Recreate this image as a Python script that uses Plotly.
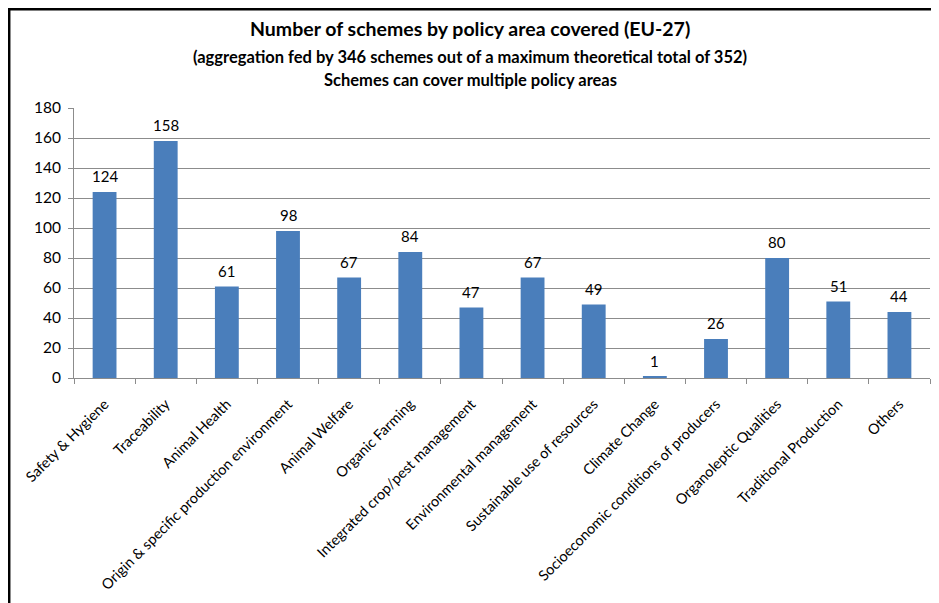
import plotly.graph_objects as go

categories = [
    "Safety & Hygiene", "Traceability", "Animal Health",
    "Origin & specific production environment", "Animal Welfare",
    "Organic Farming", "Integrated crop/pest management",
    "Environmental management", "Sustainable use of resources",
    "Climate Change", "Socioeconomic conditions of producers",
    "Organoleptic Qualities", "Traditional Production", "Others",
]
values = [124, 158, 61, 98, 67, 84, 47, 67, 49, 1, 26, 80, 51, 44]
y_ticks = [0, 20, 40, 60, 80, 100, 120, 140, 160, 180]

title_lines = [
    "Number of schemes by policy area covered (EU-27)",
    "(aggregation fed by 346 schemes out of a maximum theoretical total of 352)",
    "Schemes can cover multiple policy areas",
]

# page has an 8px body margin; the figure is drawn at page offset (8, 8)
OFF = 8
W, H = 939 - OFF, 603 - OFF
L, R, T, B = 74 - OFF, 9, 108 - OFF, 603 - 378
pw, ph = W - L - R, H - T - B

def px_to_paper_x(page_x):
    return (page_x - OFF - L) / pw

def px_to_paper_y(page_y):
    return (H - B - (page_y - OFF)) / ph

FONT = "Lato, Carlito, Calibri, sans-serif"

fig = go.Figure(go.Bar(
    x=categories, y=values,
    marker=dict(color="#4a7ebb", line=dict(width=0)),
    cliponaxis=False,
))

# value labels above bars
for c, v in zip(categories, values):
    fig.add_annotation(
        x=c, y=v, xref="x", yref="y", text=str(v), showarrow=False,
        yanchor="middle", yshift=16,
        font=dict(family=FONT, size=15, color="#000000"),
    )

fig.update_layout(
    width=W, height=H,
    margin=dict(l=L, r=R, t=T, b=B, autoexpand=False),
    paper_bgcolor="white", plot_bgcolor="white",
    bargap=0.61, showlegend=False,
    font=dict(family=FONT, color="#000000"),
)
fig.update_xaxes(
    type="category", tickangle=-45,
    tickfont=dict(family=FONT, size=14.5, color="#000000"),
    showline=True, linecolor="#8c8c8c", linewidth=1,
    ticks="outside", tickson="boundaries", ticklen=5, tickcolor="#8c8c8c",
    showgrid=False, ticklabelstandoff=11,
)
fig.update_yaxes(
    range=[0, 180], tickvals=y_ticks,
    tickfont=dict(family=FONT, size=15.5, color="#000000"),
    showline=True, linecolor="#8c8c8c", linewidth=1,
    ticks="outside", ticklen=5, tickcolor="#8c8c8c",
    showgrid=True, gridcolor="#8c8c8c", gridwidth=1,
    zeroline=False, ticklabelstandoff=4,
)

ys = [28, 57, 80]
sizes = [19.5, 16.5, 16.5]
for txt, py, sz in zip(title_lines, ys, sizes):
    fig.add_annotation(
        text="<b>%s</b>" % txt, xref="paper", yref="paper",
        x=px_to_paper_x(470), y=px_to_paper_y(py), xanchor="center", yanchor="middle",
        showarrow=False, font=dict(family=FONT, size=sz, color="#000000"),
    )

# outer frame (top and left edges), as close to the page edge as the figure allows
fig.add_shape(type="line", xref="paper", yref="paper",
              x0=px_to_paper_x(8), x1=px_to_paper_x(940),
              y0=px_to_paper_y(9.2), y1=px_to_paper_y(9.2),
              line=dict(color="#000000", width=2.5))
fig.add_shape(type="line", xref="paper", yref="paper",
              x0=px_to_paper_x(9.2), x1=px_to_paper_x(9.2),
              y0=px_to_paper_y(9.2), y1=px_to_paper_y(604),
              line=dict(color="#000000", width=2.5))

fig.write_html("out.html")
